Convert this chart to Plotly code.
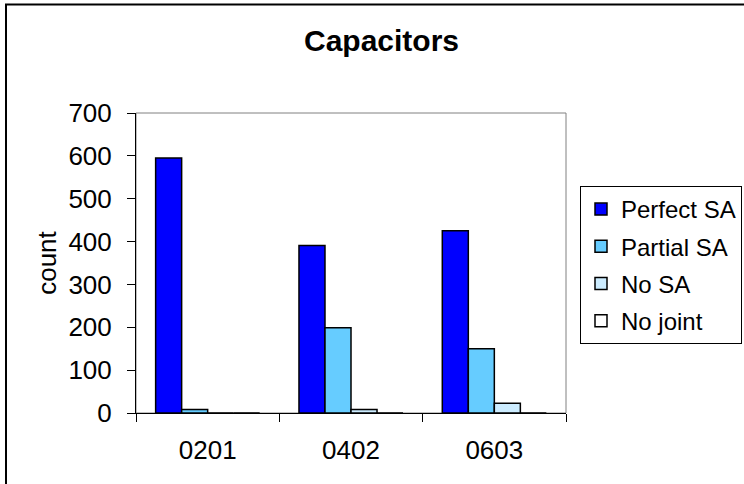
import plotly.graph_objects as go

# Solder-joint counts per capacitor package size
categories = ["0201", "0402", "0603"]
series_names = ["Perfect SA", "Partial SA", "No SA", "No joint"]
perfect_sa = [595, 391, 425]
partial_sa = [8, 199, 150]
no_sa = [0, 8, 23]
no_joint = [0, 0, 0]
series_values = [perfect_sa, partial_sa, no_sa, no_joint]
series_colors = ["#0000FF", "#66CCFF", "#CCECFF", "#FFFFFF"]

y_ticks = [0, 100, 200, 300, 400, 500, 600, 700]

FONT = "Liberation Sans, Arial, sans-serif"
W, H = 744, 484
ML, MR, MT, MB = 136, 178, 113, 71
PW, PH = W - ML - MR, H - MT - MB


def px_to_paper_x(px):
    return (px - ML) / PW


def px_to_paper_y(py):
    return (H - MB - py) / PH


fig = go.Figure()
for i, (name, vals, col) in enumerate(zip(series_names, series_values, series_colors)):
    fig.add_trace(go.Bar(
        x=categories, y=vals, name=name, legendgroup=f"g{i}",
        marker=dict(color=col, line=dict(color="#000000", width=1.5)),
    ))

fig.update_layout(
    width=W, height=H,
    margin=dict(l=ML, r=MR, t=MT, b=MB, autoexpand=False),
    paper_bgcolor="white", plot_bgcolor="white",
    barmode="group", bargap=0.274, bargroupgap=0,
    font=dict(family=FONT, size=26, color="#000000"),
    title=dict(text="<b>Capacitors</b>", font=dict(family=FONT, size=30, color="#000000"),
               x=381.5 / W, xref="container", xanchor="center",
               y=1 - 40 / H, yref="container", yanchor="middle"),
    xaxis=dict(type="category", tickson="boundaries", ticks="outside", ticklen=8,
               tickcolor="#000000", linecolor="#000000", linewidth=1, showline=True,
               showgrid=False, zeroline=False, tickfont=dict(size=26),
               ticklabelstandoff=14),
    yaxis=dict(range=[0, 700], tickvals=y_ticks, ticks="outside", ticklen=8,
               tickcolor="#000000", linecolor="#000000", linewidth=1, showline=True,
               showgrid=False, zeroline=False, tickfont=dict(size=26),
               ticklabelstandoff=10,
               title=dict(text="count", font=dict(size=26), standoff=4)),
    legend=dict(x=px_to_paper_x(580), y=px_to_paper_y(186), xanchor="left", yanchor="top",
                bordercolor="#000000", borderwidth=1, bgcolor="white",
                font=dict(size=24), tracegroupgap=3, traceorder="grouped"),
    shapes=[
        # plot-area frame (top/right edges visible in grey)
        dict(type="rect", xref="paper", yref="paper", x0=0, x1=1, y0=0, y1=1,
             line=dict(color="#808080", width=1), layer="below"),
        # chart-area frame
        dict(type="rect", xref="paper", yref="paper",
             x0=px_to_paper_x(6), x1=px_to_paper_x(770),
             y0=px_to_paper_y(510), y1=px_to_paper_y(4.5),
             line=dict(color="#000000", width=2), layer="below"),
    ],
)

fig.write_html("out.html")
